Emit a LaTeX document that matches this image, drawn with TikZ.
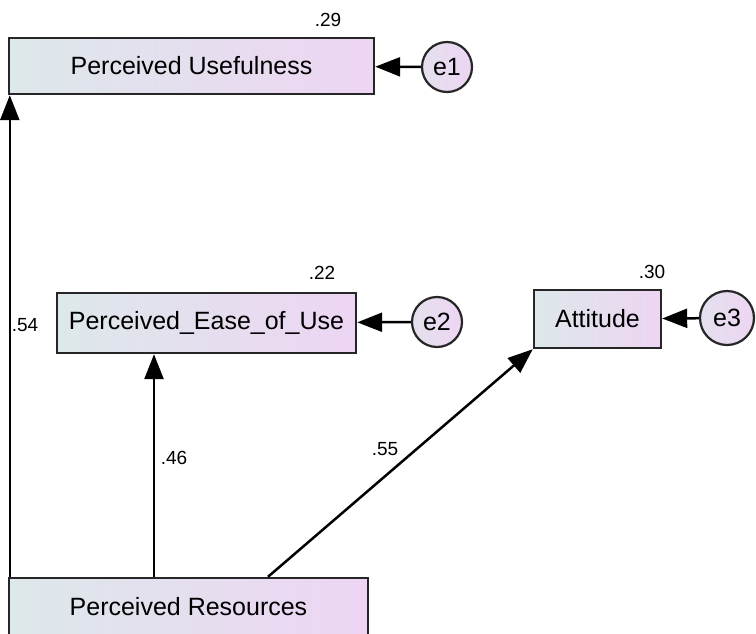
\documentclass[tikz,border=0pt]{standalone}
\usepackage{fontspec}
\setmainfont{Liberation Sans}
\usetikzlibrary{arrows.meta,calc}
\definecolor{shadeL}{HTML}{DDE8EA}
\definecolor{shadeR}{HTML}{EDD5F3}
\tikzset{
  varbox/.style={rectangle, draw=black!85, line width=2.4pt, left color=shadeL, right color=shadeR,
    font=\fontsize{25}{28}\selectfont, inner sep=0pt},
  errc/.style={circle, draw=black!85, line width=2.2pt, left color=shadeL!60!shadeR, right color=shadeR,
    font=\fontsize{25}{28}\selectfont, inner sep=0pt},
  path/.style={line width=2.5pt, -{Triangle[length=25pt,width=19pt]}},
  coef/.style={font=\fontsize{19}{22}\selectfont, inner sep=0pt}
}
\begin{document}
\begin{tikzpicture}[x=1pt,y=-1pt]
\useasboundingbox (0,0) rectangle (756,633);
\fill[white] (0,0) rectangle (756,633);
% observed variables
\node[varbox, minimum width=365pt, minimum height=56pt] (PU) at (191.5,66) {Perceived Usefulness};
\node[varbox, minimum width=299pt, minimum height=60pt] (PEU) at (206.5,323) {Perceived\_Ease\_of\_Use};
\node[varbox, minimum width=127pt, minimum height=58pt] (ATT) at (597.5,319) {Attitude};
\node[varbox, minimum width=359pt, minimum height=58pt] (PR) at (188.5,607) {Perceived Resources};
% error terms
\node[errc, minimum size=50pt] (e1) at (447,67) {e1};
\node[errc, minimum size=50pt] (e2) at (437,322) {e2};
\node[errc, minimum size=54pt] (e3) at (727,318) {e3};
% error paths
\draw[path] (e1) -- (PU);
\draw[path] (e2) -- (PEU);
\draw[path] (e3) -- (ATT);
% structural paths
\coordinate (prA) at (154,578);
\coordinate (prB) at (268,578);
\draw[path] ([xshift=2pt]PR.north west) -- ([xshift=2pt]PU.south west);
\draw[path] (prA |- PR.north) -- (prA |- PEU.south);
\draw[path] (prB |- PR.north) -- (ATT.south west);
% squared multiple correlations
\node[coef] (r1) at (328,20) {.29};
\node[coef] (r2) at (322,273) {.22};
\node[coef] (r3) at (652,272) {.30};
% path coefficients
\node[coef] (c1) at (25,325) {.54};
\node[coef] (c2) at (174,458) {.46};
\node[coef] (c3) at (385,449) {.55};
\end{tikzpicture}
\end{document}
